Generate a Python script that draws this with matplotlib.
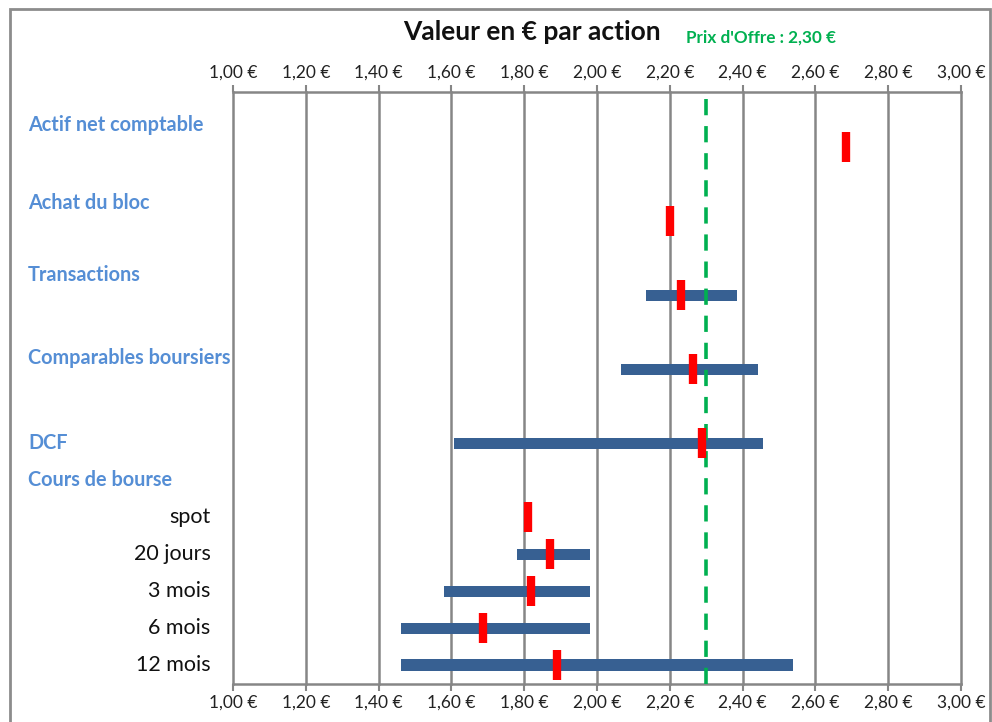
"""Valuation range chart (football field) - valeur en euros par action."""

from matplotlib import pyplot as plt
from matplotlib.patches import Rectangle
from matplotlib.ticker import FuncFormatter, MultipleLocator
from matplotlib.transforms import blended_transform_factory

# rows, from bottom (slot 0) to top; empty slots keep Excel spacing
row_pos = [0, 1, 2, 3, 4, 6, 8, 10, 12, 14]
range_low = [1.462, 1.462, 1.580, 1.779, None, 1.608, 2.065, 2.135, None, None]
range_high = [2.539, 1.982, 1.982, 1.982, None, 2.457, 2.442, 2.385, None, None]
central = [1.890, 1.688, 1.818, 1.871, 1.811, 2.288, 2.265, 2.231, 2.200, 2.684]

sub_labels = ["12 mois", "6 mois", "3 mois", "20 jours", "spot"]
sub_label_pos = [0, 1, 2, 3, 4]
method_labels = ["Cours de bourse", "DCF", "Comparables boursiers",
                 "Transactions", "Achat du bloc", "Actif net comptable"]
method_label_pos = [5.0, 6.0, 8.3, 10.55, 12.5, 14.62]

offer_price = 2.30

plt.rcParams['font.family'] = ['Lato', 'DejaVu Sans']

fig = plt.figure(figsize=(9.92, 7.22), dpi=100)
ax = fig.add_axes([0.2349, 0.0533, 0.7339, 0.8193])

grid_col = "#868686"
bar_col = "#376092"
blue_txt = "#558ED5"

# ranges
for y, lo, hi in zip(row_pos, range_low, range_high):
    if lo is None:
        continue
    ax.barh(y, hi - lo, left=lo, height=0.3, color=bar_col, zorder=3)

# central values
ax.plot(central, row_pos, linestyle="none", marker="|", markersize=21,
        markeredgewidth=6, color="#FF0000", zorder=5)

# offer price
ax.axvline(offer_price, color="#00B050", linestyle=(0, (4.5, 3)),
           linewidth=2.6, zorder=4, ymax=0.995)

ax.set_xlim(1.0, 3.0)
ax.set_ylim(-0.5, 15.5)
ax.xaxis.set_major_locator(MultipleLocator(0.2))
ax.xaxis.set_major_formatter(
    FuncFormatter(lambda v, p: f"{v:.2f}".replace(".", ",") + " €"))
ax.grid(axis="x", color=grid_col, linewidth=1.8, zorder=0)
for gl in ax.get_xgridlines():
    gl.set_clip_on(False)
ax.set_yticks([])
ax.tick_params(axis="x", top=True, labeltop=True, bottom=True,
               labelbottom=True, direction="out", length=5, width=1.5,
               color=grid_col, labelsize=12.5, pad=3, labelcolor="#222222")
for side in ["left", "right"]:
    ax.spines[side].set_visible(False)
for side in ["top", "bottom"]:
    ax.spines[side].set_color(grid_col)
    ax.spines[side].set_linewidth(1.8)

# row labels
for lab, y in zip(sub_labels, sub_label_pos):
    ax.text(-0.031, y, lab, transform=ax.get_yaxis_transform(),
            ha="right", va="center", fontsize=15.5, color="#111111")
fig_y = blended_transform_factory(fig.transFigure, ax.transData)
for lab, y in zip(method_labels, method_label_pos):
    ax.text(28 / 992, y, lab, transform=fig_y, ha="left", va="center",
            fontsize=14.3, fontweight="bold", color=blue_txt)

fig.text(532 / 992, 1 - 32 / 722, "Valeur en € par action", ha="center",
         va="center", fontsize=19, fontweight="bold", color="#111111")
fig.text(761 / 992, 1 - 38 / 722, "Prix d'Offre : 2,30 €", ha="center",
         va="center", fontsize=12.3, fontweight="bold", color="#00B050")

# outer frame
fig.patches.append(Rectangle((10 / 992, -0.05), 980 / 992, 1.05 - 9 / 722,
                             transform=fig.transFigure, fill=False,
                             edgecolor="#8C8C8C", linewidth=2))

fig.savefig("out.png", dpi=100)
